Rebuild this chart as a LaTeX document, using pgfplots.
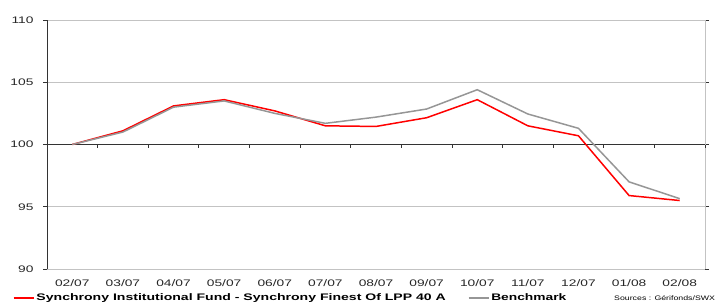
\documentclass[border=0pt]{standalone}
\usepackage{pgfplots}
\pgfplotsset{compat=1.18}
\usepackage{graphicx}
\usepackage{fontspec}
\setmainfont{Liberation Sans}
\definecolor{fundred}{RGB}{255,0,0}
\definecolor{benchgray}{RGB}{150,150,150}
\definecolor{gridgray}{RGB}{195,195,195}
\newcommand\sx[1]{\scalebox{1.45}[1]{#1}}
\begin{document}
\begin{tikzpicture}[x=1bp,y=1bp]
\path[use as bounding box] (0,0) rectangle (716,306);
\begin{axis}[
  at={(47bp,37bp)}, anchor=south west,
  scale only axis, width=658bp, height=249bp,
  xmin=-0.5, xmax=12.5, ymin=90, ymax=110,
  xtick={0,...,12},
  xticklabels={\sx{02/07},\sx{03/07},\sx{04/07},\sx{05/07},\sx{06/07},\sx{07/07},\sx{08/07},\sx{09/07},\sx{10/07},\sx{11/07},\sx{12/07},\sx{01/08},\sx{02/08}},
  xticklabel style={font=\fontsize{9.5bp}{11bp}\selectfont, text=black!85, yshift=-3bp},
  ytick={90,95,100,105,110},
  yticklabel={\sx{\pgfmathprintnumber[assume math mode=true]{\tick}}},
  yticklabel style={font=\fontsize{9.5bp}{11bp}\selectfont, text=black!85, xshift=-6bp},
  major x tick style={draw=none},
  major y tick style={black!80, line width=0.8pt},
  tick align=outside, major tick length=4bp,
  ymajorgrids, grid style={gridgray, line width=0.7pt},
  axis line style={draw=none},
  clip=false,
  legend columns=2,
  legend style={at={(axis description cs:-0.052,-0.117)}, anchor=west, draw=none, fill=none,
    font=\bfseries\fontsize{9.5bp}{11bp}\selectfont, inner sep=0pt,
    /tikz/every even column/.append style={column sep=20bp}},
  legend image code/.code={\draw[#1] (0bp,0bp) -- (20bp,0bp);},
  legend cell align=left,
]
\draw[gridgray, line width=0.7pt] (axis cs:12.5,90) -- (axis cs:12.5,110);
\draw[black!80, line width=0.8pt] (axis cs:-0.5,90) -- (axis cs:-0.5,110);
\draw[black!80, line width=0.8pt] (axis cs:-0.5,100) -- (axis cs:12.5,100);
\pgfplotsinvokeforeach{0.5,1.5,2.5,3.5,4.5,5.5,6.5,7.5,8.5,9.5,10.5,11.5,12.5}{
  \draw[black!80, line width=0.8pt] (axis cs:#1,100) -- ([yshift=-3.5bp]axis cs:#1,100);
}
\addplot[fundred, line width=1.5pt] coordinates {
(0,100) (1,101.1) (2,103.1) (3,103.6) (4,102.7) (5,101.5) (6,101.45)
(7,102.15) (8,103.6) (9,101.5) (10,100.7) (11,95.9) (12,95.5)};
\addlegendentry{\scalebox{1.48}[1]{Synchrony Institutional Fund - Synchrony Finest Of LPP 40 A}}
\addplot[benchgray, line width=1.5pt] coordinates {
(0,100) (1,101.0) (2,103.0) (3,103.5) (4,102.5) (5,101.7) (6,102.2)
(7,102.85) (8,104.4) (9,102.45) (10,101.3) (11,97.0) (12,95.65)};
\addlegendentry{\sx{Benchmark}}
\end{axis}
\node[anchor=west, inner sep=0pt, font=\fontsize{6.5bp}{8bp}\selectfont] at (614,8) {\scalebox{1.35}[1]{Sources : Gérifonds/SWX}};
\end{tikzpicture}
\end{document}
